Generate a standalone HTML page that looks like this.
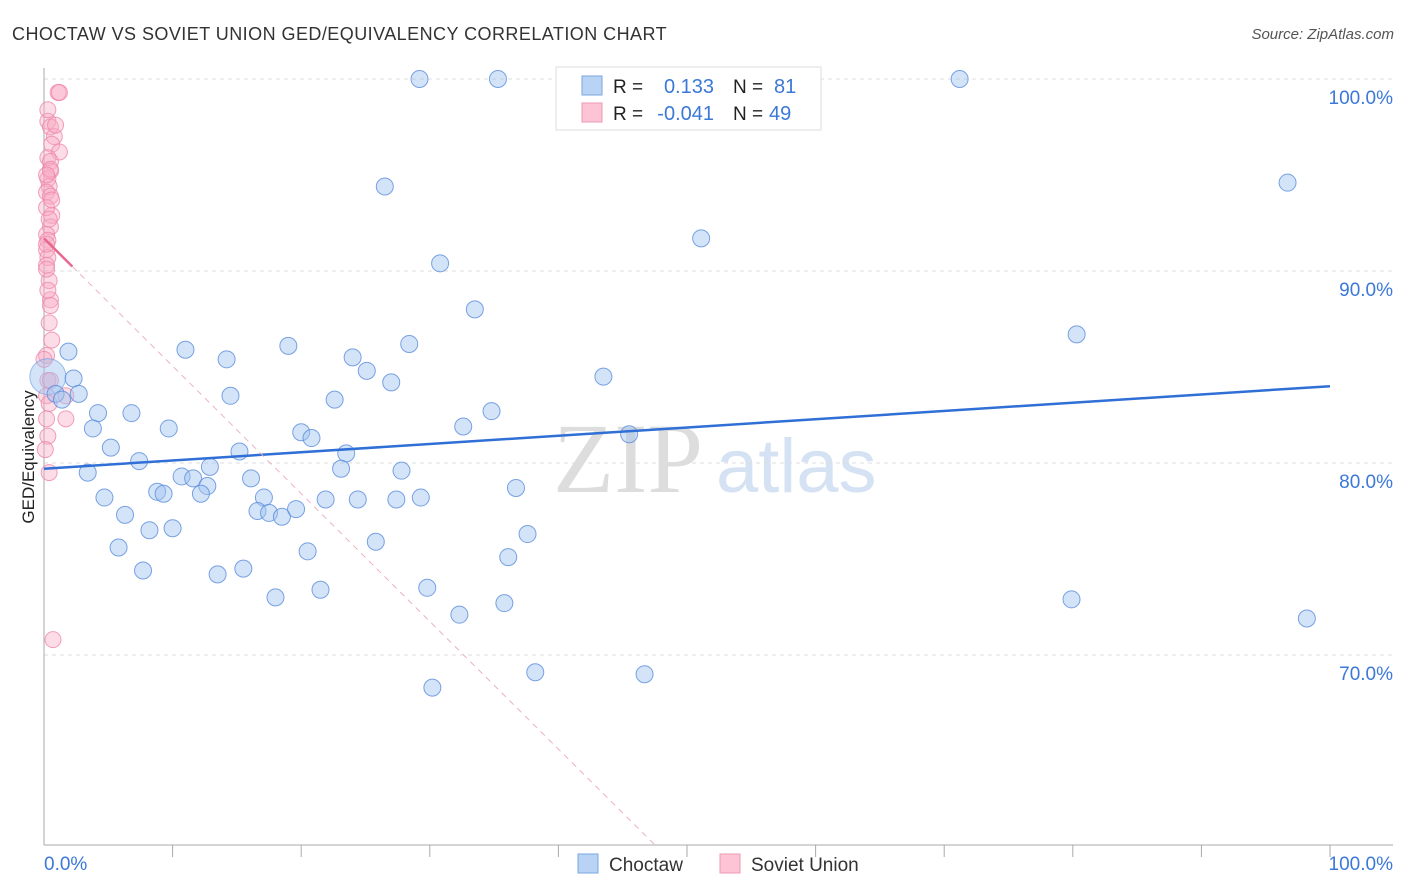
<!DOCTYPE html>
<html><head><meta charset="utf-8">
<style>
body{margin:0;background:#fff;width:1406px;height:892px;overflow:hidden;font-family:"Liberation Sans",sans-serif}
svg{display:block}
</style></head>
<body>
<svg id="chart" width="1406" height="892">
<text x="12" y="40" font-size="18" letter-spacing="0.45" fill="#333">CHOCTAW VS SOVIET UNION GED/EQUIVALENCY CORRELATION CHART</text>
<text x="1394" y="39" font-size="15" fill="#555" text-anchor="end" font-style="italic">Source: ZipAtlas.com</text>
<g>
<text x="553" y="492" font-size="100" fill="#ddd" font-family="Liberation Serif,serif">ZIP</text>
<text x="716" y="492" font-size="76" fill="#d4e2f4">atlas</text>
</g>
<g id="grid"></g>
<g id="axes"></g>
<g id="marks"></g>
<g>
<rect x="556" y="67" width="265" height="63" fill="#fff" stroke="#ddd"/>
<rect x="582" y="76" width="20" height="19" fill="#b9d3f5" stroke="#7aa6e0"/>
<rect x="582" y="103" width="20" height="19" fill="#fcc4d4" stroke="#ee9ab3"/>
<text x="613" y="93" font-size="19" fill="#222">R =</text>
<text x="714" y="93" font-size="20" fill="#3b78d8" text-anchor="end">0.133</text>
<text x="733" y="93" font-size="19" fill="#222">N =</text>
<text x="774" y="93" font-size="20" fill="#3b78d8">81</text>
<text x="613" y="120" font-size="19" fill="#222">R =</text>
<text x="714" y="120" font-size="20" fill="#3b78d8" text-anchor="end">-0.041</text>
<text x="733" y="120" font-size="19" fill="#222">N =</text>
<text x="769" y="120" font-size="20" fill="#3b78d8">49</text>
</g>
<g>
<rect x="578" y="854" width="20" height="19" fill="#b9d3f5" stroke="#7aa6e0"/>
<text x="609" y="871" font-size="19" fill="#333">Choctaw</text>
<rect x="720" y="854" width="20" height="19" fill="#fcc4d4" stroke="#ee9ab3"/>
<text x="751" y="871" font-size="19" fill="#333">Soviet Union</text>
</g>
<text transform="translate(34,457) rotate(-90)" font-size="17" fill="#222" text-anchor="middle">GED/Equivalency</text>
</svg>
<script>
const yTicks=[100,90,80,70];
const yTickLabels=["100.0%","90.0%","80.0%","70.0%"];
const blueX=[29.2,35.3,71.2,26.5,96.7,51.1,30.8,33.5,80.3,1.9,11.0,14.2,19.0,28.4,24.0,25.1,27.0,43.5,2.3,0.9,1.4,2.7,14.5,22.6,4.2,6.8,3.8,9.7,34.8,32.6,45.5,20.0,20.8,5.2,15.2,23.5,7.4,3.4,12.9,23.1,27.8,10.7,11.6,16.1,8.8,9.3,12.7,12.2,4.7,17.1,21.9,24.4,27.4,29.3,36.7,6.3,16.6,17.5,18.5,19.6,8.2,10.0,25.8,37.6,5.8,20.5,36.1,7.7,13.5,15.5,18.0,21.5,29.8,32.3,35.8,79.9,98.2,30.2,38.2,46.7];
const blueY=[100,100,100,94.4,94.6,91.7,90.4,88.0,86.7,85.8,85.9,85.4,86.1,86.2,85.5,84.8,84.2,84.5,84.4,83.6,83.3,83.6,83.5,83.3,82.6,82.6,81.8,81.8,82.7,81.9,81.5,81.6,81.3,80.8,80.6,80.5,80.1,79.5,79.8,79.7,79.6,79.3,79.2,79.2,78.5,78.4,78.8,78.4,78.2,78.2,78.1,78.1,78.1,78.2,78.7,77.3,77.5,77.4,77.2,77.6,76.5,76.6,75.9,76.3,75.6,75.4,75.1,74.4,74.2,74.5,73.0,73.4,73.5,72.1,72.7,72.9,71.9,68.3,69.1,69.0];
const pinkX=[1.1,1.2,0.3,0.5,0.8,0.6,1.2,0.3,0.5,0.5,0.3,0.4,0.2,0.5,0.6,0.5,0.2,0.3,0.2,0.3,0.2,0.4,0.5,0.5,0.4,0.6,0.2,0.3,0.2,0.4,1.7,1.7,0.2,0.3,0.4,0.7,0.2,0.2,0.5,0.3,0,0.1,0.3,0.6,0.2,0.5,0.2,0.4,0.9];
const pinkY=[99.3,99.3,97.8,97.5,97.0,96.6,96.2,95.9,95.7,95.2,94.8,94.4,94.1,93.9,92.9,92.3,91.9,91.6,91.1,90.7,90.3,89.5,88.5,88.2,87.3,86.4,85.6,84.3,83.5,83.1,83.5,82.3,82.3,81.4,79.5,70.8,93.3,90.1,95.3,89.0,85.4,80.7,98.4,93.7,91.4,84.3,95.0,92.7,97.6];
const bigBlue=[0.3,84.5];
const blueTrend=[79.7,84.0];
const pinkTrend=[91.7,-0.665];

const NS="http://www.w3.org/2000/svg";
const X=v=>44+v*12.86;
const Y=v=>79+(100-v)*19.2;
function mk(tag,attrs,parent){const e=document.createElementNS(NS,tag);for(const k in attrs)e.setAttribute(k,attrs[k]);parent.appendChild(e);return e;}
const grid=document.getElementById('grid'),axes=document.getElementById('axes'),marks=document.getElementById('marks');
yTicks.forEach((t,i)=>{
 const l=mk('line',{x1:44,x2:1393,y1:Y(t),y2:Y(t),stroke:'#ddd','stroke-dasharray':'4,4'},grid);
 
 
 const tx=mk('text',{x:1393,y:Y(t)+25,'font-size':19,fill:'#3b78d8','text-anchor':'end'},axes);
 tx.textContent=yTickLabels[i];
 
 
});
let a=mk('line',{x1:44,x2:44,y1:68,y2:845,stroke:'#aaa'},axes);


a=mk('line',{x1:44,x2:1393,y1:845,y2:845,stroke:'#aaa'},axes);


for(let i=1;i<=10;i++){
 const t=mk('line',{x1:X(i*10),x2:X(i*10),y1:845,y2:857,stroke:'#aaa'},axes);
 
 
}
let xl=mk('text',{x:44,y:870,'font-size':19,fill:'#3b78d8'},axes);xl.textContent='0.0%';


xl=mk('text',{x:1393,y:870,'font-size':19,fill:'#3b78d8','text-anchor':'end'},axes);xl.textContent='100.0%';



pinkX.forEach((x,i)=>{
 const c=mk('circle',{cx:X(x),cy:Y(pinkY[i]),r:8,fill:'rgba(248,170,195,0.4)',stroke:'rgba(236,130,165,0.75)','stroke-width':1},marks);
 
 
});
let bb=mk('circle',{cx:X(bigBlue[0]),cy:Y(bigBlue[1]),r:18,fill:'rgba(160,195,240,0.45)',stroke:'rgba(100,150,225,0.6)'},marks);


blueX.forEach((x,i)=>{
 const c=mk('circle',{cx:X(x),cy:Y(blueY[i]),r:8.5,fill:'rgba(160,195,240,0.45)',stroke:'rgba(90,140,220,0.8)','stroke-width':1},marks);
 
 
});
let tl=mk('line',{x1:X(0),y1:Y(blueTrend[0]),x2:X(100),y2:Y(blueTrend[1]),stroke:'#2f6fd6','stroke-width':2.5},marks);


const pEnd=(pinkTrend[0]-60)/(-pinkTrend[1]);
tl=mk('line',{x1:X(2.2),y1:Y(pinkTrend[0]+pinkTrend[1]*2.2),x2:X(pEnd),y2:Y(60),stroke:'#eab0c2','stroke-width':1,'stroke-dasharray':'6,5'},marks);


tl=mk('line',{x1:X(0),y1:Y(pinkTrend[0]),x2:X(2.2),y2:Y(pinkTrend[0]+pinkTrend[1]*2.2),stroke:'#e8678f','stroke-width':2.5},marks);


</script>
</body></html>
